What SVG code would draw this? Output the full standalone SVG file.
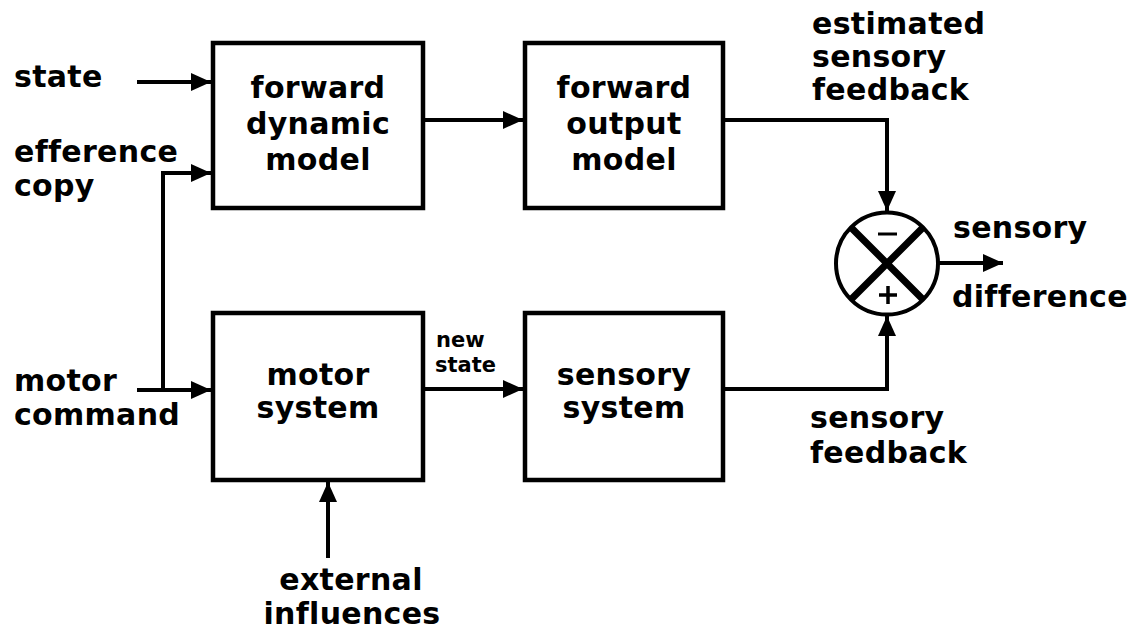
<svg xmlns="http://www.w3.org/2000/svg" width="1135" height="639" viewBox="0 0 1135 639">
<style>
text{font-family:"DejaVu Sans","Liberation Sans",sans-serif;font-weight:bold;font-size:30px;letter-spacing:0.3px;fill:#000}
.c{text-anchor:middle}
.s{font-size:21px;letter-spacing:0}
.box{fill:#fff;stroke:#000;stroke-width:4.5}
.ln{fill:none;stroke:#000;stroke-width:4;marker-end:url(#ah)}
</style>
<defs>
<marker id="ah" markerUnits="userSpaceOnUse" markerWidth="20" markerHeight="18" refX="20" refY="9" orient="auto">
<path d="M0,0 L20,9 L0,18 z" fill="#000"/>
</marker>
</defs>
<rect width="1135" height="639" fill="#fff"/>
<g id="connectors">
<path class="ln" d="M137,82 H211"/>
<path class="ln" d="M163,390 V173 H211"/>
<path class="ln" d="M137,390 H211"/>
<path class="ln" d="M424,120 H523"/>
<path class="ln" d="M424,389 H523"/>
<path class="ln" d="M723,120 H887 V211"/>
<path class="ln" d="M723,389 H887 V316"/>
<path class="ln" d="M938,263 H1003"/>
<path class="ln" d="M328,558 V482"/>
</g>
<g id="forward-dynamic-model">
<rect class="box" x="213" y="43" width="210" height="165"/>
<text class="c" x="318" y="98">forward</text>
<text class="c" x="318" y="134">dynamic</text>
<text class="c" x="318" y="170">model</text>
</g>
<g id="forward-output-model">
<rect class="box" x="525" y="43" width="198" height="165"/>
<text class="c" x="624" y="98">forward</text>
<text class="c" x="624" y="134">output</text>
<text class="c" x="624" y="170">model</text>
</g>
<g id="motor-system">
<rect class="box" x="213" y="313" width="210" height="167"/>
<text class="c" x="318" y="385">motor</text>
<text class="c" x="318" y="418">system</text>
</g>
<g id="sensory-system">
<rect class="box" x="525" y="313" width="198" height="167"/>
<text class="c" x="624" y="385">sensory</text>
<text class="c" x="624" y="418">system</text>
</g>
<g id="comparator">
<circle cx="887" cy="263.5" r="51" fill="#fff" stroke="#000" stroke-width="4"/>
<path d="M851,227.5 L923,299.5 M923,227.5 L851,299.5" stroke="#000" stroke-width="7"/>
<path d="M878,234 H897" stroke="#000" stroke-width="3"/>
<path d="M879,295 H897 M888,286 V304" stroke="#000" stroke-width="3.5"/>
</g>
<g id="labels">
<text x="14" y="87">state</text>
<text x="14" y="162">efference</text>
<text x="14" y="196">copy</text>
<text x="14" y="391">motor</text>
<text x="14" y="425">command</text>
<text class="s" x="436" y="347">new</text>
<text class="s" x="435" y="372">state</text>
<text x="812" y="34">estimated</text>
<text x="812" y="67">sensory</text>
<text x="812" y="100">feedback</text>
<text x="953" y="238">sensory</text>
<text x="952" y="307">difference</text>
<text x="810" y="428">sensory</text>
<text x="810" y="463">feedback</text>
<text class="c" x="351" y="590">external</text>
<text class="c" x="352" y="624">influences</text>
</g>
</svg>
